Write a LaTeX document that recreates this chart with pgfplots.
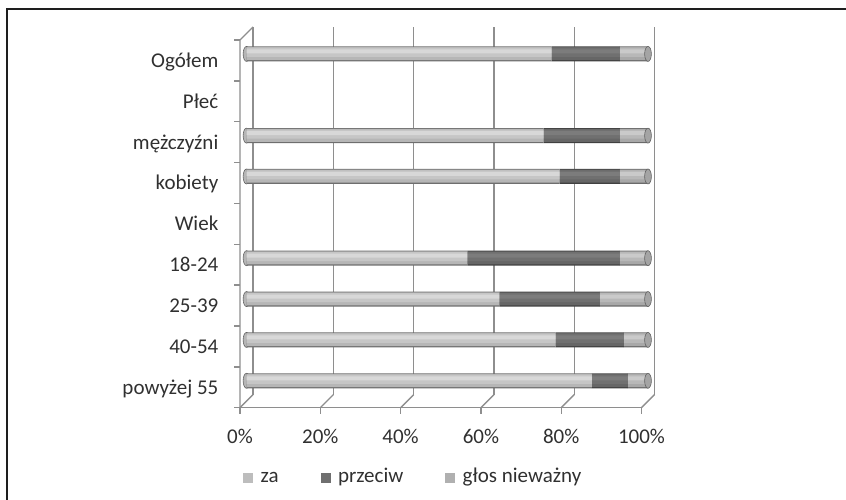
\documentclass[border=0pt]{standalone}
\usepackage{pgfplots}
\usepackage{pgfplotstable}
\pgfplotsset{compat=1.18}
\usepackage{fontspec}
\setmainfont{Carlito}

\definecolor{txt}{HTML}{303030}
\definecolor{gridc}{HTML}{8E8E8E}
\definecolor{framec}{HTML}{1E1E1E}
% legend swatches
\definecolor{zaL}{HTML}{BDBDBD}
\definecolor{prL}{HTML}{6F6F6F}
\definecolor{glL}{HTML}{B0B0B0}
% cylinder bands, from the outer edge to the highlight
\definecolor{za1}{HTML}{6E6E6E}\definecolor{za2}{HTML}{B6B6B6}\definecolor{za3}{HTML}{C6C6C6}\definecolor{za4}{HTML}{D8D8D8}
\definecolor{pr1}{HTML}{404040}\definecolor{pr2}{HTML}{666666}\definecolor{pr3}{HTML}{707070}\definecolor{pr4}{HTML}{7C7C7C}
\definecolor{gl1}{HTML}{6A6A6A}\definecolor{gl2}{HTML}{A8A8A8}\definecolor{gl3}{HTML}{B8B8B8}\definecolor{gl4}{HTML}{CACACA}
\definecolor{capF}{HTML}{A4A4A4}\definecolor{capD}{HTML}{626262}

\newcommand{\lbl}{\fontsize{21pt}{25pt}\selectfont}

% share of votes (%) by group; pos = row from the bottom
\pgfplotstableread{
pos za przeciw glos
8   76 17  7
6   74 19  7
5   78 15  7
3   55 38  7
2   63 25 12
1   77 17  6
0   86  9  5
}\votes

\pgfplotsset{
  base/.style={
    scale only axis, width=401.5pt, height=367.7pt,
    at={(246.5pt,98.8pt)}, anchor=south west,
    xmin=0, xmax=100, ymin=-0.5, ymax=8.5, clip=false,
  },
}
\tikzset{
  front/.style={shift={(-6.5pt,-6.5pt)}},
  back/.style={shift={(6.5pt,6.5pt)}},
  wall/.style={gridc, line width=1.4pt},
}

% one band of the cylinders: width, offset, colours of the three segments
\newcommand{\barlayer}[5]{%
  \begin{axis}[base, hide axis, xbar stacked, bar width=#1, bar shift=#2]
    \addplot[draw=none, fill=#3] table[x=za, y=pos]{\votes};
    \addplot[draw=none, fill=#4] table[x=przeciw, y=pos]{\votes};
    \addplot[draw=none, fill=#5] table[x=glos, y=pos]{\votes};
  \end{axis}}

\begin{document}
\begin{tikzpicture}
\useasboundingbox (0,0) rectangle (846pt,500pt);

% back wall gridlines and the rear ends of the cylinders
\begin{axis}[base, hide axis]
  \pgfplotsinvokeforeach{0,20,40,60,80,100}{
    \draw[wall] ([back]axis cs:#1,-0.5) -- ([back]axis cs:#1,8.5);
  }
  \addplot[only marks, mark=*, mark size=7.5pt,
    mark options={xscale=0.45, fill=za2, draw=capD, line width=0.6pt}]
    table[x expr=0, y=pos]{\votes};
\end{axis}

% cylinders built up from flat bands
\barlayer{0.367}{0}{za1}{pr1}{gl1}
\barlayer{0.318}{0.006}{za2}{pr2}{gl2}
\barlayer{0.220}{0.037}{za3}{pr3}{gl3}
\barlayer{0.098}{0.061}{za4}{pr4}{gl4}

% front ends of the cylinders
\begin{axis}[base, hide axis]
  \addplot[only marks, mark=*, mark size=7.5pt,
    mark options={xscale=0.45, fill=capF, draw=capD, line width=0.6pt}]
    table[x expr=\thisrow{za}+\thisrow{przeciw}+\thisrow{glos}, y=pos]{\votes};
\end{axis}

% labels, legend and the front edges of the box
\begin{axis}[base,
  axis line style={draw=none}, tick style={draw=none}, major tick length=0pt,
  xtick={0,20,40,60,80,100},
  xticklabels={0\%,20\%,40\%,60\%,80\%,100\%},
  ytick={0,...,8},
  yticklabels={powyżej 55,40-54,25-39,18-24,Wiek,kobiety,mężczyźni,Płeć,Ogółem},
  xticklabel style={font=\lbl, text=txt, inner sep=0pt, anchor=base, xshift=-6.5pt, yshift=-42.8pt},
  yticklabel style={font=\lbl, text=txt, inner sep=0pt, anchor=base east, xshift=-28pt, yshift=-13.5pt},
  legend columns=-1,
  legend style={font=\lbl, text=txt, draw=none, fill=none, inner sep=0pt,
    at={(0,0)}, anchor=west, xshift=-3.5pt, yshift=-76.8pt,
    column sep=8pt,
    /tikz/every even column/.append style={column sep=42pt},
    nodes={inner sep=0pt, text height=13pt, text depth=4pt}},
]
  \addlegendimage{legend image code/.code={\fill[zaL] (0pt,-4.5pt) rectangle (9pt,4.5pt);}}
  \addlegendentry{za}
  \addlegendimage{legend image code/.code={\fill[prL] (0pt,-4.5pt) rectangle (9pt,4.5pt);}}
  \addlegendentry{przeciw}
  \addlegendimage{legend image code/.code={\fill[glL] (0pt,-4.5pt) rectangle (9pt,4.5pt);}}
  \addlegendentry{głos nieważny}

  \draw[wall] ([front]axis cs:0,-0.5) -- ([front]axis cs:0,8.5) -- ([back]axis cs:0,8.5);
  \draw[wall] ([front]axis cs:0,-0.5) -- ([front]axis cs:100,-0.5);
  \pgfplotsinvokeforeach{0,20,40,60,80,100}{
    \draw[wall] ([front]axis cs:#1,-0.5) -- ([back]axis cs:#1,-0.5);
    \draw[wall] ([front]axis cs:#1,-0.5) -- ([front,yshift=-6pt]axis cs:#1,-0.5);
  }
  \pgfplotsinvokeforeach{-0.5,0.5,1.5,2.5,3.5,4.5,5.5,6.5,7.5,8.5}{
    \draw[wall] ([front]axis cs:0,#1) -- ([front,xshift=-6pt]axis cs:0,#1);
  }
\end{axis}

% outer frame
\draw[framec, line width=2pt] (7pt,0pt) -- (7pt,491pt) -- (846pt,491pt);
\end{tikzpicture}
\end{document}
